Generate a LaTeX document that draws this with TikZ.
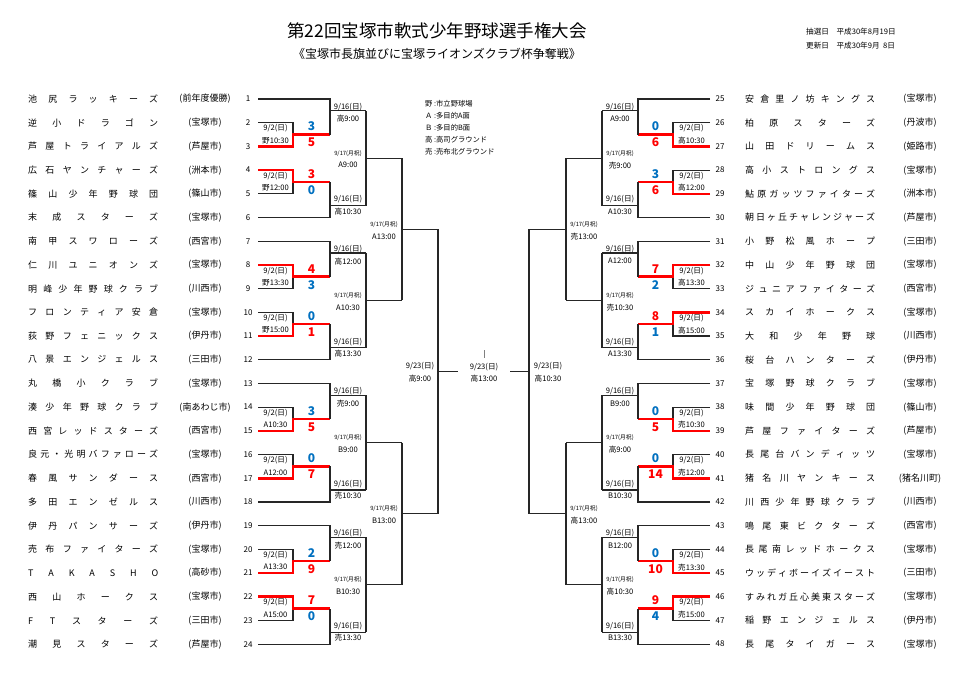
\documentclass[tikz,border=0pt]{standalone}
\usepackage{fontspec}
\setmainfont{Noto Sans CJK JP}
\ExplSyntaxOn
\NewDocumentCommand\spread{mm}{
  \tl_set:Nx \l_tmpa_tl {#2}
  \makebox[#1][s]{
    \bool_set_false:N \l_tmpa_bool
    \tl_map_inline:Nn \l_tmpa_tl {\bool_if:NT \l_tmpa_bool {\hfill} \bool_set_true:N \l_tmpa_bool ##1}
  }
}
\ExplSyntaxOff
\definecolor{wred}{RGB}{255,0,0}
\definecolor{lblue}{RGB}{0,112,192}
\tikzset{
  br/.style={line width=1.2pt,black!85},
  win/.style={line width=2.6pt,wred},
  lab/.style={inner sep=0pt,font=\fontsize{7.6}{8}\selectfont},
  slab/.style={inner sep=0pt,font=\fontsize{5.8}{6}\selectfont},
  sc/.style={inner sep=0pt,font=\fontsize{12}{12}\selectfont\bfseries},
  nm/.style={inner sep=0pt,anchor=west,font=\fontsize{9}{10}\selectfont},
  ct/.style={inner sep=0pt,font=\fontsize{9}{10}\selectfont},
  num/.style={inner sep=0pt,font=\fontsize{8}{9}\selectfont},
}
\newcommand\FR[9]{%
  \pgfmathsetmacro\ya{99+(#4-1)*23.7}\pgfmathsetmacro\yb{99+(#5-1)*23.7}\pgfmathsetmacro\ym{(\ya+\yb)/2}%
  \pgfmathsetmacro\xs{(#2+#3)/2}\pgfmathsetmacro\xl{(#1+#2)/2}%
  \draw[br] (#1,\ya)--(#2,\ya)--(#2,\yb)--(#1,\yb);
  \draw[br] (#2,\ym)--(#3,\ym);
  \ifnum#6=1
    \draw[win] (#1,\ya)--(#2,\ya)--(#2,\ym)--(#3,\ym);
    \node[sc,wred] at (\xs,\ym-8) {#7};
    \node[sc,lblue] at (\xs,\ym+8) {#8};
  \else
    \draw[win] (#1,\yb)--(#2,\yb)--(#2,\ym)--(#3,\ym);
    \node[sc,lblue] at (\xs,\ym-8) {#7};
    \node[sc,wred] at (\xs,\ym+8) {#8};
  \fi
  \node[lab] at (\xl,\ym-6) {9/2(日)};
  \node[lab] at (\xl,\ym+6) {#9};
}
\newcommand\SR[8]{%
  \pgfmathsetmacro\ya{99+(#4-1)*23.7}\pgfmathsetmacro\yb{99+(#5-1)*23.7}\pgfmathsetmacro\yo{99+(#6-1)*23.7}%
  \pgfmathsetmacro\xs{(#2+#3)/2}%
  \draw[br] (#1,\ya)--(#2,\ya)--(#2,\yb);
  \draw[br] (#2,\yo)--(#3,\yo);
  \ifnum#8=1
    \node[lab] at (\xs,\ya+8) {9/16(日)};
    \node[lab] at (\xs,\ya+20) {#7};
  \else
    \node[lab] at (\xs,\ya-18) {9/16(日)};
    \node[lab] at (\xs,\ya-6) {#7};
  \fi
}
% join: #1 x vertical, #2 x next, #3 row a, #4 row b, #5 out row, #6 label x, #7 style, #8 date, #9 time
\newcommand\JN[9]{%
  \pgfmathsetmacro\ya{99+(#3-1)*23.7}\pgfmathsetmacro\yb{99+(#4-1)*23.7}\pgfmathsetmacro\yo{99+(#5-1)*23.7}%
  \draw[br] (#1,\ya)--(#1,\yb);
  \draw[br] (#1,\yo)--(#2,\yo);
  \node[#7] at (#6,\yo-5) {#8};
  \node[lab] at (#6,\yo+7) {#9};
}
\def\dA{9/17(月祝)}
\def\dB{9/23(日)}
\begin{document}
\begin{tikzpicture}[x=1pt,y=-1pt]
\useasboundingbox (0,0) rectangle (964,678);
\fill[white] (0,0) rectangle (964,678);
\node[inner sep=0pt,font=\fontsize{17.5}{18}\selectfont] (title) at (437,31) {第22回宝塚市軟式少年野球選手権大会};
\node[inner sep=0pt,font=\fontsize{12}{12}\selectfont] (sub) at (437,54) {《宝塚市長旗並びに宝塚ライオンズクラブ杯争奪戦》};
\node[inner sep=0pt,anchor=west,font=\fontsize{7.6}{8}\selectfont] (d1) at (806,32) {抽選日\quad 平成30年8月19日};
\node[inner sep=0pt,anchor=west,font=\fontsize{7.6}{8}\selectfont] (d2) at (806,46) {更新日\quad 平成30年9月\ \ 8日};
\node[inner sep=0pt,anchor=north west,align=left,font=\fontsize{7.3}{12}\selectfont] (leg) at (425,100) {野 :市立野球場\\Ａ :多目的A面\\Ｂ :多目的B面\\高 :高司グラウンド\\売 :売布北グラウンド};
\foreach \i/\n/\c in {1/池尻ラッキーズ/(前年度優勝),2/逆小ドラゴン/(宝塚市),3/芦屋トライアルズ/(芦屋市),4/広石ヤンチャーズ/(洲本市),5/篠山少年野球団/(篠山市),6/末成スターズ/(宝塚市),7/南甲スワローズ/(西宮市),8/仁川ユニオンズ/(宝塚市),9/明峰少年野球クラブ/(川西市),10/フロンティア安倉/(宝塚市),11/荻野フェニックス/(伊丹市),12/八景エンジェルス/(三田市),13/丸橋小クラブ/(宝塚市),14/湊少年野球クラブ/(南あわじ市),15/西宮レッドスターズ/(西宮市),16/良元・光明バファローズ/(宝塚市),17/春風サンダース/(西宮市),18/多田エンゼルス/(川西市),19/伊丹パンサーズ/(伊丹市),20/売布ファイターズ/(宝塚市),21/TAKASHO/(高砂市),22/西山ホークス/(宝塚市),23/FTスターズ/(三田市),24/潮見スターズ/(芦屋市)}{
  \pgfmathsetmacro\yy{99+(\i-1)*23.7}
  \node[nm] (t\i) at (28,\yy) {\spread{130pt}{\n}};
  \node[ct] (c\i) at (205,\yy) {\c};
  \node[num] (n\i) at (248,\yy) {\i};
}
\foreach \i/\n/\c in {25/安倉里ノ坊キングス/(宝塚市),26/柏原スターズ/(丹波市),27/山田ドリームス/(姫路市),28/高小ストロングス/(宝塚市),29/鮎原ガッツファイターズ/(洲本市),30/朝日ヶ丘チャレンジャーズ/(芦屋市),31/小野松風ホープ/(三田市),32/中山少年野球団/(宝塚市),33/ジュニアファイターズ/(西宮市),34/スカイホークス/(宝塚市),35/大和少年野球/(川西市),36/桜台ハンターズ/(伊丹市),37/宝塚野球クラブ/(宝塚市),38/味間少年野球団/(篠山市),39/芦屋ファイターズ/(芦屋市),40/長尾台バンディッツ/(宝塚市),41/猪名川ヤンキース/(猪名川町),42/川西少年野球クラブ/(川西市),43/鳴尾東ビクターズ/(西宮市),44/長尾南レッドホークス/(宝塚市),45/ウッディボーイズイースト/(三田市),46/すみれガ丘心美東スターズ/(宝塚市),47/稲野エンジェルス/(伊丹市),48/長尾タイガース/(宝塚市)}{
  \pgfmathsetmacro\yy{99+(\i-25)*23.7}
  \node[num] (n\i) at (720,\yy) {\i};
  \node[nm] (t\i) at (745,\yy) {\spread{130pt}{\n}};
  \node[ct] (c\i) at (920,\yy) {\c};
}
\FR{258}{293}{330}{2}{3}{0}{3}{5}{野10:30}
\FR{258}{293}{330}{4}{5}{1}{3}{0}{野12:00}
\FR{258}{293}{330}{8}{9}{1}{4}{3}{野13:30}
\FR{258}{293}{330}{10}{11}{0}{0}{1}{野15:00}
\FR{258}{293}{330}{14}{15}{0}{3}{5}{A10:30}
\FR{258}{293}{330}{16}{17}{0}{0}{7}{A12:00}
\FR{258}{293}{330}{20}{21}{0}{2}{9}{A13:30}
\FR{258}{293}{330}{22}{23}{1}{7}{0}{A15:00}
\SR{258}{330}{366}{1}{2.5}{1.5}{高9:00}{1}
\SR{258}{330}{366}{6}{4.5}{5.5}{高10:30}{0}
\SR{258}{330}{366}{7}{8.5}{7.5}{高12:00}{1}
\SR{258}{330}{366}{12}{10.5}{11.5}{高13:30}{0}
\SR{258}{330}{366}{13}{14.5}{13.5}{売9:00}{1}
\SR{258}{330}{366}{18}{16.5}{17.5}{売10:30}{0}
\SR{258}{330}{366}{19}{20.5}{19.5}{売12:00}{1}
\SR{258}{330}{366}{24}{22.5}{23.5}{売13:30}{0}
\JN{366}{402}{1.5}{5.5}{3.5}{348}{slab}{\dA}{A9:00}
\JN{366}{402}{7.5}{11.5}{9.5}{348}{slab}{\dA}{A10:30}
\JN{366}{402}{13.5}{17.5}{15.5}{348}{slab}{\dA}{B9:00}
\JN{366}{402}{19.5}{23.5}{21.5}{348}{slab}{\dA}{B10:30}
\JN{402}{438}{3.5}{9.5}{6.5}{384}{slab}{\dA}{A13:00}
\JN{402}{438}{15.5}{21.5}{18.5}{384}{slab}{\dA}{B13:00}
\JN{438}{458}{6.5}{18.5}{12.5}{420}{lab}{\dB}{高9:00}
\FR{710}{673}{638}{2}{3}{0}{0}{6}{高10:30}
\FR{710}{673}{638}{4}{5}{0}{3}{6}{高12:00}
\FR{710}{673}{638}{8}{9}{1}{7}{2}{高13:30}
\FR{710}{673}{638}{10}{11}{1}{8}{1}{高15:00}
\FR{710}{673}{638}{14}{15}{0}{0}{5}{売10:30}
\FR{710}{673}{638}{16}{17}{0}{0}{14}{売12:00}
\FR{710}{673}{638}{20}{21}{0}{0}{10}{売13:30}
\FR{710}{673}{638}{22}{23}{1}{9}{4}{売15:00}
\SR{710}{638}{602}{1}{2.5}{1.5}{A9:00}{1}
\SR{710}{638}{602}{6}{4.5}{5.5}{A10:30}{0}
\SR{710}{638}{602}{7}{8.5}{7.5}{A12:00}{1}
\SR{710}{638}{602}{12}{10.5}{11.5}{A13:30}{0}
\SR{710}{638}{602}{13}{14.5}{13.5}{B9:00}{1}
\SR{710}{638}{602}{18}{16.5}{17.5}{B10:30}{0}
\SR{710}{638}{602}{19}{20.5}{19.5}{B12:00}{1}
\SR{710}{638}{602}{24}{22.5}{23.5}{B13:30}{0}
\JN{602}{566}{1.5}{5.5}{3.5}{620}{slab}{\dA}{売9:00}
\JN{602}{566}{7.5}{11.5}{9.5}{620}{slab}{\dA}{売10:30}
\JN{602}{566}{13.5}{17.5}{15.5}{620}{slab}{\dA}{高9:00}
\JN{602}{566}{19.5}{23.5}{21.5}{620}{slab}{\dA}{高10:30}
\JN{566}{529}{3.5}{9.5}{6.5}{584}{slab}{\dA}{売13:00}
\JN{566}{529}{15.5}{21.5}{18.5}{584}{slab}{\dA}{高13:00}
\JN{529}{510}{6.5}{18.5}{12.5}{548}{lab}{\dB}{高10:30}
\node[lab] (fd) at (484,367) {9/23(日)};
\node[lab] (ft) at (484,379) {高13:00};
\draw[black!50,line width=0.5pt] (484,350)--(484,358);
\end{tikzpicture}
\end{document}
